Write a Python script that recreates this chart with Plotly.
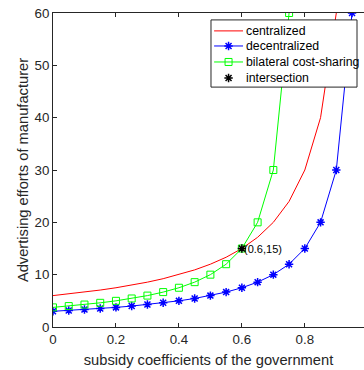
import plotly.graph_objects as go

x_dec = [0, 0.05, 0.1, 0.15, 0.2, 0.25, 0.3, 0.35, 0.4, 0.45, 0.5, 0.55, 0.6, 0.65, 0.7, 0.75, 0.8, 0.85, 0.9, 0.95]
y_dec = [3.0, 3.16, 3.33, 3.53, 3.75, 4.0, 4.29, 4.62, 5.0, 5.45, 6.0, 6.67, 7.5, 8.57, 10.0, 12.0, 15.0, 20.0, 30.0, 60.0]

x_cen = [0, 0.05, 0.1, 0.15, 0.2, 0.25, 0.3, 0.35, 0.4, 0.45, 0.5, 0.55, 0.6, 0.65, 0.7, 0.75, 0.8, 0.85, 0.9]
y_cen = [6.0, 6.32, 6.67, 7.06, 7.5, 8.0, 8.57, 9.23, 10.0, 10.91, 12.0, 13.33, 15.0, 17.14, 20.0, 24.0, 30.0, 40.0, 60.0]

x_bil = [0, 0.05, 0.1, 0.15, 0.2, 0.25, 0.3, 0.35, 0.4, 0.45, 0.5, 0.55, 0.6, 0.65, 0.7, 0.75]
y_bil = [3.75, 4.0, 4.29, 4.62, 5.0, 5.45, 6.0, 6.67, 7.5, 8.57, 10.0, 12.0, 15.0, 20.0, 30.0, 60.0]

x_int = [0.6]
y_int = [15]
int_label = "(0.6,15)"

x_ticks = [0, 0.2, 0.4, 0.6, 0.8]
y_ticks = [0, 10, 20, 30, 40, 50, 60]

series_names = ["centralized", "decentralized", "bilateral cost-sharing", "intersection"]

FONT = "Arial, Liberation Sans, sans-serif"
AX = "#262626"

styles = [
    dict(mode="lines", line=dict(color="#FF0000", width=1)),
    dict(mode="lines+markers", line=dict(color="#0000FF", width=1),
         marker=dict(symbol="asterisk-open", size=7, color="#0000FF",
                     line=dict(color="#0000FF", width=1.5))),
    dict(mode="lines+markers", line=dict(color="#00FF00", width=1),
         marker=dict(symbol="square-open", size=7, color="#00FF00",
                     line=dict(color="#00FF00", width=1))),
    dict(mode="markers",
         marker=dict(symbol="asterisk-open", size=7, color="black",
                     line=dict(color="black", width=1.5))),
]

fig = go.Figure()
data = [(x_cen, y_cen), (x_dec, y_dec), (x_bil, y_bil), (x_int, y_int)]
for (xs, ys), nm, st in zip(data, series_names, styles):
    fig.add_trace(go.Scatter(x=xs, y=ys, name=nm, showlegend=False, **st))

fig.add_annotation(x=x_int[0], y=y_int[0], text=int_label, showarrow=False,
                   xanchor="left", yanchor="middle", xshift=0,
                   font=dict(family=FONT, size=11, color="black"))

# manual legend (MATLAB style) on an overlay axis in [0,1] units
lg_x0, lg_x1, lg_y0, lg_y1 = 0.508, 0.9775, 0.764, 0.978
rows = [0.943, 0.895, 0.844, 0.793]
sx0, sx1, sxm, tx = 0.518, 0.611, 0.5645, 0.614
fig.add_trace(go.Scatter(x=[lg_x0, lg_x1, lg_x1, lg_x0, lg_x0], y=[lg_y0, lg_y0, lg_y1, lg_y1, lg_y0],
                         mode="lines", fill="toself", fillcolor="white",
                         line=dict(color=AX, width=1),
                         xaxis="x2", yaxis="y2", showlegend=False, hoverinfo="skip"))
for ry, nm, st in zip(rows, series_names, styles):
    if "lines" in st["mode"]:
        fig.add_trace(go.Scatter(x=[sx0, sx1], y=[ry, ry], mode="lines", line=st["line"],
                                 xaxis="x2", yaxis="y2", showlegend=False, hoverinfo="skip"))
    if "markers" in st["mode"]:
        fig.add_trace(go.Scatter(x=[sxm], y=[ry], mode="markers", marker=st["marker"],
                                 xaxis="x2", yaxis="y2", showlegend=False, hoverinfo="skip"))
    fig.add_annotation(x=tx, y=ry, xref="paper", yref="paper", text=nm, showarrow=False,
                       xanchor="left", yanchor="middle",
                       font=dict(family=FONT, size=12.3, color="black"))

fig.update_layout(
    width=364, height=370,
    margin=dict(l=53, r=0, t=13, b=43),
    plot_bgcolor="white", paper_bgcolor="white",
    font=dict(family=FONT, color=AX),
    showlegend=False,
    xaxis2=dict(range=[0, 1], overlaying="x", visible=False, fixedrange=True),
    yaxis2=dict(range=[0, 1], overlaying="y", visible=False, fixedrange=True),
)
fig.update_layout(xaxis=dict(
    range=[0, 0.988], tickvals=x_ticks, ticktext=[str(v) for v in x_ticks],
    showgrid=False, zeroline=False, showline=True, linecolor=AX, linewidth=1,
    mirror="ticks", ticks="inside", ticklen=4, tickcolor=AX,
    tickfont=dict(size=13.3, color=AX),
    title=dict(text="subsidy coefficients of the government",
               font=dict(size=14.7, color=AX), standoff=8)))
fig.update_layout(yaxis=dict(
    range=[0, 60], tickvals=y_ticks,
    showgrid=False, zeroline=False, showline=True, linecolor=AX, linewidth=1,
    mirror=False, ticks="inside", ticklen=4, tickcolor=AX,
    tickfont=dict(size=13.3, color=AX),
    title=dict(text="Advertising efforts of manufacturer",
               font=dict(size=14.7, color=AX), standoff=2)))

fig.write_html("out.html")
